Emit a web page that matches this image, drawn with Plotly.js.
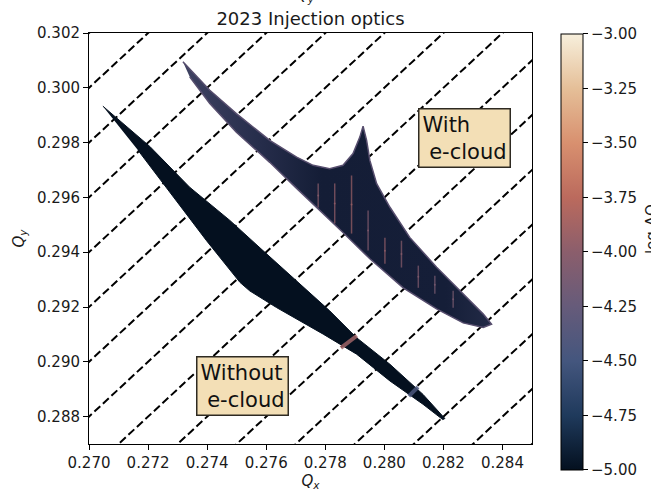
<!DOCTYPE html>
<html><head><meta charset="utf-8">
<script src="https://cdn.plot.ly/plotly-3.0.1.min.js"></script>
<style>html,body{margin:0;padding:0;background:#fff}#chart{width:651px;height:497px}</style>
</head><body><div id="chart"></div>
<script>
// Resonance-like dashed lines: Qy = Qx + offset
const resonanceOffsets = [0.032,0.030,0.028,0.026,0.024,0.022,0.020,0.018,0.016,0.014,0.012,0.010,0.008,0.006,0.004,0.002];

// Footprint outline without e-cloud
const withoutQx = [0.27047,0.27206,0.27341,0.27477,0.27589,0.27703,0.27815,0.27906,0.28019,0.28131,0.28205,
                   0.28198,0.28131,0.28019,0.27906,0.27793,0.27635,0.27544,0.27511,0.27398,0.27285,0.27166];
const withoutQy = [0.29933,0.29786,0.29637,0.29516,0.29406,0.29296,0.29186,0.29088,0.28991,0.28881,0.28793,
                   0.28789,0.28845,0.28930,0.29028,0.29101,0.29198,0.29259,0.29290,0.29442,0.29601,0.29772];

// Footprint outline with e-cloud
const withQx = [0.27318,0.27409,0.27499,0.27612,0.27703,0.27759,0.27815,0.27860,0.27894,0.27917,0.27928,
                0.27940,0.27951,0.27974,0.28019,0.28086,0.28177,0.28267,0.28335,0.28363,
                0.28335,0.28267,0.28177,0.28064,0.27951,0.27860,0.27770,0.27703,0.27612,0.27499,0.27409,0.27341];
const withQy = [0.30095,0.29991,0.29906,0.29808,0.29747,0.29717,0.29705,0.29717,0.29760,0.29820,0.29860,
                0.29808,0.29735,0.29650,0.29564,0.29454,0.29345,0.29247,0.29174,0.29137,
                0.29125,0.29142,0.29193,0.29270,0.29376,0.29472,0.29563,0.29633,0.29728,0.29838,0.29943,0.30040];

// Vertical diffusion streaks inside the e-cloud footprint
const streakQx       = [0.27776,0.27832,0.27889,0.27945,0.28002,0.28058,0.28115,0.28171,0.28233];
const streakQyTop    = [0.29651,0.29651,0.29680,0.29552,0.29453,0.29442,0.29351,0.29314,0.29259];
const streakQyBottom = [0.29563,0.29505,0.29468,0.29406,0.29358,0.29344,0.29270,0.29248,0.29197];
const streakLogDQ    = [-4.0,-3.95,-3.9,-4.05,-3.95,-4.0,-4.05,-4.1,-4.1];

// Bands across the footprint without e-cloud
const bandQxStart = [0.27853,0.28083];
const bandQyStart = [0.29051,0.28875];
const bandQxEnd   = [0.27907,0.28114];
const bandQyEnd   = [0.29095,0.28908];
const bandLogDQ   = [-3.9,-4.45];

const colorTicks = [-5.00,-4.75,-4.50,-4.25,-4.00,-3.75,-3.50,-3.25,-3.00];
const cMin = -5, cMax = -3;

const colorscale = [
  [0.000,'#04101f'],[0.125,'#1f3a5c'],[0.250,'#44567e'],[0.375,'#665b7a'],
  [0.500,'#8b5e6c'],[0.625,'#bb6a5d'],[0.750,'#d8906f'],[0.875,'#e5bf98'],[1.000,'#f7efdc']
];
function hex2rgb(h){return [parseInt(h.substr(1,2),16),parseInt(h.substr(3,2),16),parseInt(h.substr(5,2),16)];}
function colorAt(v){
  let t = (v - cMin)/(cMax - cMin); t = Math.max(0,Math.min(1,t));
  for (let i=1;i<colorscale.length;i++){
    if (t <= colorscale[i][0]){
      const a = colorscale[i-1], b = colorscale[i];
      const f = (t - a[0])/(b[0]-a[0]);
      const ca = hex2rgb(a[1]), cb = hex2rgb(b[1]);
      return 'rgb(' + ca.map((c,k)=>Math.round(c+(cb[k]-c)*f)).join(',') + ')';
    }
  }
  return colorscale[colorscale.length-1][1];
}

const FONT = 'DejaVu Sans, sans-serif';
const traces = [];

const xExt = [0.265, 0.290];
resonanceOffsets.forEach(c => {
  traces.push({x: xExt, y: xExt.map(x => x + c), mode:'lines', type:'scatter',
    line:{color:'#000', width:2, dash:'8px,3.6px'}, hoverinfo:'skip', showlegend:false});
});

traces.push({x: withoutQx, y: withoutQy, type:'scatter', mode:'lines', fill:'toself',
  fillcolor: colorAt(-5), line:{color: colorAt(-5), width:1}, hoverinfo:'skip', showlegend:false});

traces.push({x: withQx, y: withQy, type:'scatter', mode:'lines', fill:'toself',
  fillcolor: '#1a2340',
  fillgradient:{type:'horizontal', colorscale:[[0,'#3f4262'],[0.25,'#262d4b'],[0.45,'#141d36'],[0.85,'#151e38'],[1,'#222a46']]},
  line:{color:'#574e6e', width:1.5}, hoverinfo:'skip', showlegend:false});

streakQx.forEach((x,i) => {
  traces.push({x:[x,x], y:[streakQyTop[i], streakQyBottom[i]], type:'scatter', mode:'lines',
    line:{color: colorAt(streakLogDQ[i]), width:1.5}, opacity:0.7, hoverinfo:'skip', showlegend:false});
});

bandQxStart.forEach((x,i) => {
  traces.push({x:[x, bandQxEnd[i]], y:[bandQyStart[i], bandQyEnd[i]], type:'scatter', mode:'lines',
    line:{color: colorAt(bandLogDQ[i]), width:4}, opacity:0.85, hoverinfo:'skip', showlegend:false});
});

// markers carrying the colour axis (colorbar)
traces.push({x: streakQx, y: streakQx.map((x,i)=>(streakQyTop[i]+streakQyBottom[i])/2),
  type:'scatter', mode:'markers', marker:{color: streakLogDQ, coloraxis:'coloraxis', size:2, opacity:0.7},
  hoverinfo:'skip', showlegend:false});

const axisCommon = {
  showline:true, mirror:true, linecolor:'#000', linewidth:1,
  ticks:'outside', ticklen:5, tickwidth:1, tickcolor:'#000',
  showgrid:false, zeroline:false, tickformat:'.3f',
  tickfont:{family:FONT, size:15, color:'#1a1a1a'}
};

const layout = {
  width:651, height:497,
  margin:{l:89, r:119, t:33, b:53, pad:0},
  paper_bgcolor:'#fff', plot_bgcolor:'#fff',
  showlegend:false,
  font:{family:FONT, color:'#1a1a1a'},
  title:{text:'2023 Injection optics', font:{family:FONT, size:18, color:'#1a1a1a'},
         xref:'paper', x:0.5, xanchor:'center', yref:'container', y:1-19/497, yanchor:'middle'},
  xaxis: Object.assign({}, axisCommon, {range:[0.270,0.285], tick0:0.270, dtick:0.002,
    title:{text:'<i>Q</i><sub><i>x</i></sub>', font:{family:FONT, size:15, color:'#1a1a1a'}, standoff:4}}),
  yaxis: Object.assign({}, axisCommon, {range:[0.287,0.302], tick0:0.288, dtick:0.002,
    title:{text:'<i>Q</i><sub><i>y</i></sub>', font:{family:FONT, size:15, color:'#1a1a1a'}, standoff:8}}),
  coloraxis:{cmin:cMin, cmax:cMax, colorscale: colorscale,
    colorbar:{x:1.066, xanchor:'left', xpad:0, y:0.4672, yanchor:'middle', ypad:0,
      len:436, lenmode:'pixels', thickness:22, thicknessmode:'pixels',
      outlinewidth:1, outlinecolor:'#000', ticks:'outside', ticklen:5, tickwidth:1, tickcolor:'#000',
      tickvals: colorTicks, tickformat:'.2f', tickfont:{family:FONT, size:15, color:'#1a1a1a'}}},
  annotations:[
    {text:'With<br>\u00a0e-cloud', x:0.28271, y:0.29816, xref:'x', yref:'y', showarrow:false,
     xanchor:'center', yanchor:'middle', align:'left',
     font:{family:FONT, size:21, color:'#111'}, bgcolor:'#f3dfb6', bordercolor:'#2e2a22', borderwidth:1.5, borderpad:3},
    {text:'Without<br>\u00a0e-cloud', x:0.27521, y:0.28910, xref:'x', yref:'y', showarrow:false,
     xanchor:'center', yanchor:'middle', align:'left',
     font:{family:FONT, size:21, color:'#111'}, bgcolor:'#f3dfb6', bordercolor:'#2e2a22', borderwidth:1.5, borderpad:3},
    {text:'<i>Q</i><sub><i>y</i></sub>', x:(305-89)/443, y:(444-7)/411, xref:'paper', yref:'paper',
     showarrow:false, xanchor:'center', yanchor:'bottom', font:{family:FONT, size:15, color:'#1a1a1a'}},
    {text:'log ΔQ', x:(652-89)/443, y:(444-229)/411, xref:'paper', yref:'paper', showarrow:false,
     textangle:-90, xanchor:'center', yanchor:'middle', font:{family:FONT, size:15, color:'#1a1a1a'}}
  ]
};

Plotly.newPlot('chart', traces, layout, {displayModeBar:false, staticPlot:true});
</script>
</body></html>
